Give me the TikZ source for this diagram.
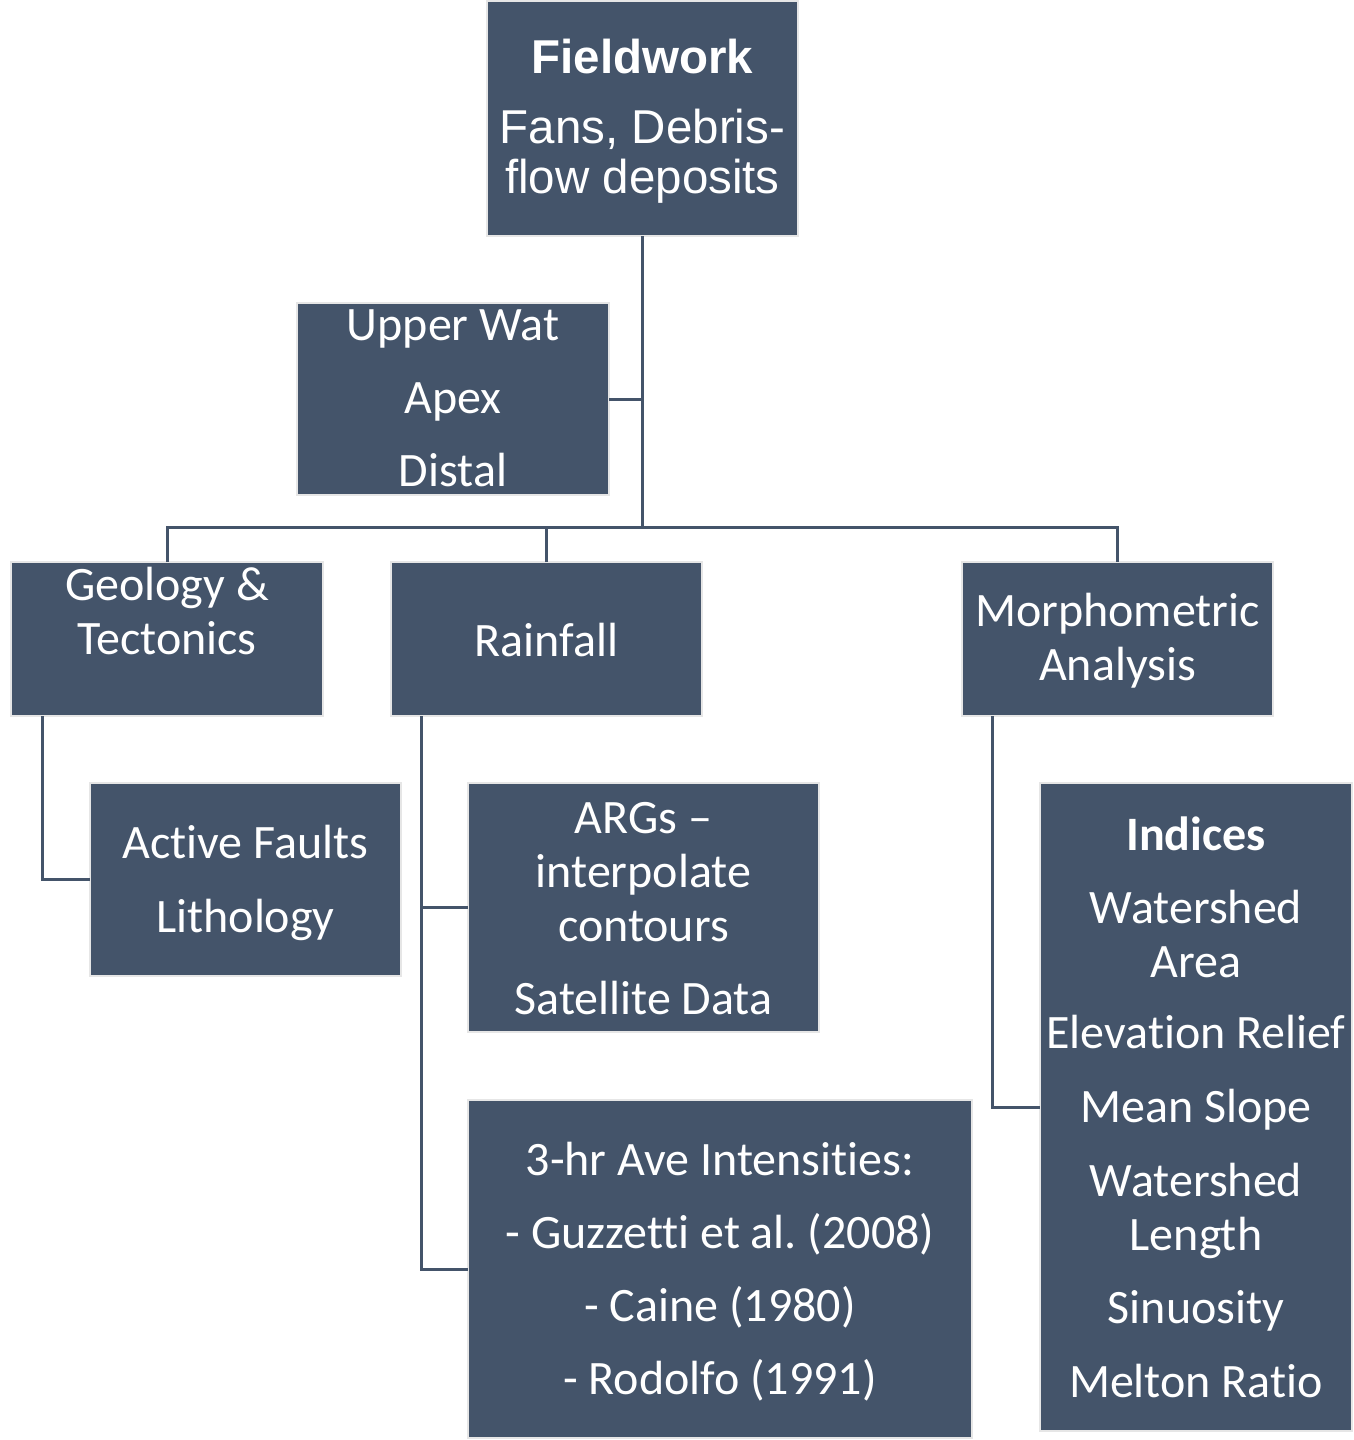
\documentclass[tikz,border=0pt]{standalone}
\usepackage{fontspec}
\setmainfont{Carlito}
\newfontfamily\arialf{Liberation Sans}
\newfontfamily\carlitof[Ligatures=NoCommon]{Carlito}
\definecolor{slate}{RGB}{68,84,106}
\definecolor{edge}{RGB}{230,230,230}
\begin{document}
\begin{tikzpicture}[x=1pt,y=-1pt,
  box/.style={draw=edge, line width=2.5pt, fill=slate, inner sep=0pt, outer sep=0pt},
  txt/.style={text=white, align=center, inner sep=0pt, font=\carlitof\fontsize{48}{54}\selectfont\frenchspacing},
  atxt/.style={text=white, align=center, inner sep=0pt, font=\arialf\fontsize{47.5}{50}\selectfont},
  conn/.style={draw=slate, line width=3pt}]
\useasboundingbox[fill=white] (0,0) rectangle (1354,1440);
% boxes
\node[box, minimum width=311pt, minimum height=235pt] (fw) at (642.5,118.5) {};
\node[box, minimum width=312pt, minimum height=192pt] (uw) at (453,399) {};
\node[box, minimum width=312pt, minimum height=154pt] (geo) at (167,639) {};
\node[box, minimum width=311pt, minimum height=154pt] (rain) at (546.5,639) {};
\node[box, minimum width=311pt, minimum height=154pt] (mor) at (1117.5,639) {};
\node[box, minimum width=311pt, minimum height=193pt] (af) at (245.5,879.5) {};
\node[box, minimum width=351pt, minimum height=249pt] (arg) at (643.5,907.5) {};
\node[box, minimum width=504pt, minimum height=338pt] (hr) at (720,1269) {};
\node[box, minimum width=312pt, minimum height=648pt] (ind) at (1196,1107) {};
% connectors
\coordinate (bus) at (642.5,527);
\coordinate (g1) at ([xshift=31pt]geo.south west);
\coordinate (r1) at ([xshift=30pt]rain.south west);
\coordinate (m1) at ([xshift=30pt]mor.south west);
\draw[conn] (fw.south) -- (bus);
\draw[conn] (uw.east) -- (uw.east -| fw.south);
\draw[conn] (geo.north) |- (mor.north |- bus) -- (mor.north);
\draw[conn] (rain.north) -- (rain.north |- bus);
\draw[conn] (g1) |- (af.west);
\draw[conn] (r1) |- (arg.west);
\draw[conn] (r1) |- (hr.west);
\draw[conn] (m1) |- (ind.west);
% texts
\node[atxt] (fwt) at ([yshift=-3pt]fw.center) {\textbf{Fieldwork}\\[20pt]Fans, Debris-\\flow deposits};
\node[txt] (uwt) at ([yshift=1pt]uw.center) {Upper Wat\\[19pt]Apex\\[19pt]Distal};
\node[txt] (geot) at (167,611) {Geology \&\\Tectonics};
\node[txt] (raint) at ([yshift=-1pt]rain.center) {Rainfall};
\node[txt] (mort) at ([yshift=-2pt]mor.center) {Morphometric\\Analysis};
\node[txt] (aft) at ([yshift=-3pt]af.center) {Active Faults\\[20pt]Lithology};
\node[txt] (argt) at ([yshift=-1pt]arg.center) {ARGs –\\interpolate\\contours\\[19pt]Satellite Data};
\node[txt] (hrt) at ([yshift=-3pt]hr.center) {3-hr Ave Intensities:\\[19pt]- Guzzetti et al. (2008)\\[19pt]- Caine (1980)\\[19pt]- Rodolfo (1991)};
\node[txt] (indt) at (ind.center) {\textbf{Indices}\\[19pt]Watershed\\Area\\[17pt]Elevation Relief\\[20pt]Mean Slope\\[20pt]Watershed\\Length\\[19pt]Sinuosity\\[20pt]Melton Ratio};
\end{tikzpicture}
\end{document}
